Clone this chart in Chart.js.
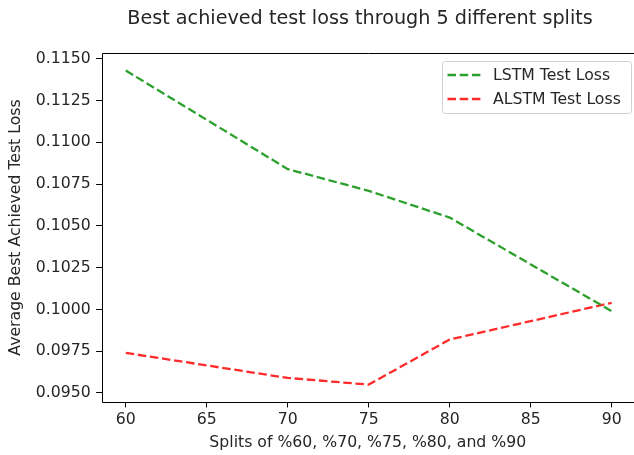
<!DOCTYPE html>
<html>
<head>
<meta charset="utf-8">
<script src="https://cdn.jsdelivr.net/npm/chart.js@4"></script>
<style>
  html, body { margin: 0; padding: 0; background: #fff; }
  #wrap { width: 634px; height: 455px; position: relative; }
</style>
</head>
<body>
<div id="wrap"><canvas id="c"></canvas></div>
<script>
const titleText = "Best achieved test loss through 5 different splits";
const xTitle = "Splits of %60, %70, %75, %80, and %90";
const yTitle = "Average Best Achieved Test Loss";
const splits = [60, 70, 75, 80, 90];
const lstmLoss = [0.1143, 0.1084, 0.1071, 0.1055, 0.0999];
const alstmLoss = [0.0974, 0.0959, 0.0955, 0.0982, 0.1004];
const seriesNames = ["LSTM Test Loss", "ALSTM Test Loss"];
const seriesColors = ["#2ca02c", "#ff2a2a"];

const FONT = "'DejaVu Sans', sans-serif";
const TXT = "#262626";
const dash = [8.5, 3.7];
const FS = 15.7;

const frameAndLegend = {
  id: 'frameAndLegend',
  afterDraw(chart) {
    const ctx = chart.ctx;
    const a = chart.chartArea;
    ctx.save();
    // title
    ctx.font = "19.2px " + FONT;
    ctx.fillStyle = TXT;
    ctx.textAlign = 'center';
    ctx.textBaseline = 'alphabetic';
    ctx.fillText(titleText, 360, 23.5);
    // frame (right spine lies just outside the picture)
    ctx.strokeStyle = '#000';
    ctx.lineWidth = 1;
    const L = Math.round(a.left) + 0.5, T = Math.round(a.top) + 0.5, B = Math.round(a.bottom) + 0.5;
    ctx.beginPath();
    ctx.moveTo(a.right + 2, T);
    ctx.lineTo(L, T);
    ctx.lineTo(L, B);
    ctx.lineTo(a.right + 2, B);
    ctx.stroke();
    // legend
    const bx = 442.5, by = 61.5, bw = 189, bh = 52, r = 3;
    ctx.beginPath();
    ctx.moveTo(bx + r, by);
    ctx.arcTo(bx + bw, by, bx + bw, by + bh, r);
    ctx.arcTo(bx + bw, by + bh, bx, by + bh, r);
    ctx.arcTo(bx, by + bh, bx, by, r);
    ctx.arcTo(bx, by, bx + bw, by, r);
    ctx.closePath();
    ctx.fillStyle = 'rgba(255,255,255,0.8)';
    ctx.fill();
    ctx.strokeStyle = '#d0d0d0';
    ctx.stroke();
    ctx.font = FS + "px " + FONT;
    ctx.textBaseline = 'middle';
    ctx.textAlign = 'left';
    chart.data.datasets.forEach((ds, i) => {
      const y = 75 + i * 24;
      ctx.beginPath();
      ctx.setLineDash(dash);
      ctx.strokeStyle = ds.borderColor;
      ctx.lineWidth = 2.3;
      ctx.moveTo(447.5, y);
      ctx.lineTo(481, y);
      ctx.stroke();
      ctx.setLineDash([]);
      ctx.fillStyle = TXT;
      ctx.fillText(ds.label, 493, y + 1);
    });
    ctx.restore();
  }
};

const mk = (vals) => splits.map((s, i) => ({ x: s, y: vals[i] }));

new Chart(document.getElementById('c'), {
  type: 'line',
  data: {
    datasets: [
      { label: seriesNames[0], data: mk(lstmLoss), borderColor: seriesColors[0], borderDash: dash, borderWidth: 2.3, pointRadius: 0, tension: 0, fill: false },
      { label: seriesNames[1], data: mk(alstmLoss), borderColor: seriesColors[1], borderDash: dash, borderWidth: 2.3, pointRadius: 0, tension: 0, fill: false }
    ]
  },
  options: {
    responsive: true,
    maintainAspectRatio: false,
    animation: false,
    layout: { padding: { left: 0, right: 0, top: 53, bottom: 0 } },
    plugins: {
      legend: { display: false },
      tooltip: { enabled: false },
      title: { display: false }
    },
    scales: {
      x: {
        type: 'linear', min: 58.5, max: 91.38,
        afterFit(s) { s.height = 53; },
        border: { display: false },
        grid: { display: true, drawOnChartArea: false, drawTicks: true, tickLength: 5.4, tickColor: '#000' },
        ticks: { stepSize: 5, includeBounds: false, autoSkip: false, maxRotation: 0, color: TXT, padding: 3.5,
                 font: { family: FONT, size: FS }, callback: v => String(v) },
        title: { display: true, text: xTitle, color: TXT, font: { family: FONT, size: FS }, padding: { top: 0, bottom: 3 } }
      },
      y: {
        type: 'linear', min: 0.09446, max: 0.11535,
        afterFit(s) { s.width = 101.5; },
        border: { display: false },
        grid: { display: true, drawOnChartArea: false, drawTicks: true, tickLength: 5.4, tickColor: '#000' },
        ticks: { stepSize: 0.0025, includeBounds: false, autoSkip: false, color: TXT, padding: 5.4,
                 font: { family: FONT, size: FS }, callback: v => Number(v).toFixed(4) },
        title: { display: true, text: yTitle, color: TXT, font: { family: FONT, size: FS }, padding: { top: 7, bottom: 0 } }
      }
    }
  },
  plugins: [frameAndLegend]
});
</script>
</body>
</html>
